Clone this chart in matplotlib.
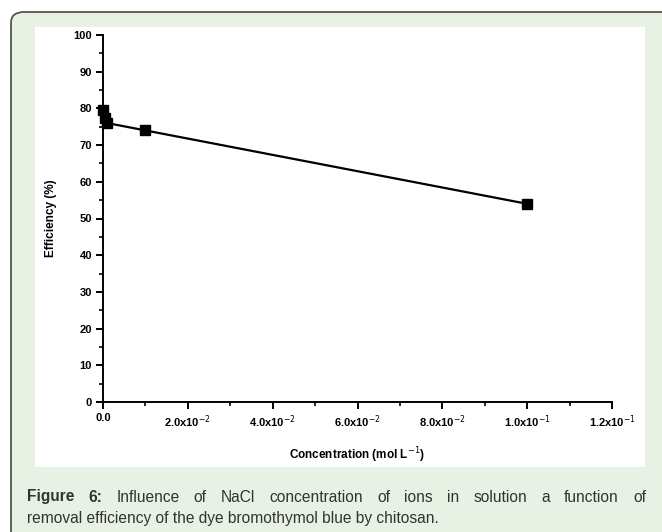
import matplotlib
matplotlib.use("Agg")
import matplotlib.pyplot as plt
from matplotlib.patches import FancyBboxPatch, Rectangle
from matplotlib.ticker import MultipleLocator, FixedLocator

conc = [0.0001, 0.0005, 0.001, 0.01, 0.1]
efficiency = [79.5, 77.5, 76.0, 74.0, 54.0]
xtick_vals = [0.0, 0.02, 0.04, 0.06, 0.08, 0.10, 0.12]
xtick_labels = ["0.0", r"2.0x10$^{-2}$", r"4.0x10$^{-2}$", r"6.0x10$^{-2}$",
                r"8.0x10$^{-2}$", r"1.0x10$^{-1}$", r"1.2x10$^{-1}$"]
ytick_vals = [0, 10, 20, 30, 40, 50, 60, 70, 80, 90, 100]
caption_bold = "Figure 6:"
caption_line1 = "Influence of NaCl concentration of ions in solution a function of"
caption_line2 = "removal efficiency of the dye bromothymol blue by chitosan."

W, H = 662, 532
fig = plt.figure(figsize=(W/100, H/100), dpi=100)
fig.patch.set_facecolor("white")

frame = FancyBboxPatch((11/W, -20/H), (W+20)/W, (H+8)/H,
                       boxstyle="round,pad=0,rounding_size=0.02",
                       transform=fig.transFigure, facecolor="#e7f1e4",
                       edgecolor="#555555", linewidth=1.3, zorder=0)
fig.patches.append(frame)
panel = Rectangle((35/W, 1-467/H), (645-35)/W, (467-27)/H,
                  transform=fig.transFigure, facecolor="white",
                  edgecolor="none", zorder=0.5)
fig.patches.append(panel)

ax = fig.add_axes([103/W, 1-402/H, (612-103)/W, (402-35)/H])
ax.set_zorder(2)
ax.set_facecolor("none")
ax.plot(conc, efficiency, color="black", linewidth=1.6, marker="s",
        markersize=6.5, markerfacecolor="black", markeredgecolor="black",
        clip_on=False, zorder=3)
ax.set_xlim(0, 0.12)
ax.set_ylim(0, 100)
for s in ["top", "right"]:
    ax.spines[s].set_visible(False)
for s in ["left", "bottom"]:
    ax.spines[s].set_linewidth(1.4)
ax.xaxis.set_major_locator(FixedLocator(xtick_vals))
ax.set_xticklabels(xtick_labels)
ax.xaxis.set_minor_locator(MultipleLocator(0.01))
ax.yaxis.set_major_locator(FixedLocator(ytick_vals))
ax.yaxis.set_minor_locator(MultipleLocator(5))
ax.tick_params(axis="both", which="major", direction="out", length=5,
               width=1.4, labelsize=8, pad=3)
ax.tick_params(axis="both", which="minor", direction="out", length=3, width=1.2)
for lab in ax.get_xticklabels() + ax.get_yticklabels():
    lab.set_fontweight("bold")
    lab.set_family("Liberation Sans")
ax.set_xlabel(r"Concentration (mol L$^{-1}$)", fontsize=8.5, fontweight="bold",
              family="Liberation Sans", labelpad=11)
ax.set_ylabel("Efficiency (%)", fontsize=8.5, fontweight="bold",
              family="Liberation Sans", labelpad=12)

# justified caption
renderer = fig.canvas.get_renderer()
fs = 11.2
fam = "Liberation Sans"
col = "#333333"
x_left, x_right = 27, 646

def place_justified(words, y, weights):
    texts = []
    widths = []
    for w, wt in zip(words, weights):
        t = fig.text(0, 1-y/H, w, fontsize=fs, family=fam, fontweight=wt,
                     color=col, va="center", ha="left")
        bb = t.get_window_extent(renderer)
        texts.append(t)
        widths.append(bb.width)
    gap = (x_right - x_left - sum(widths)) / (len(words) - 1)
    x = x_left
    for t, wd in zip(texts, widths):
        t.set_x(x / W)
        x += wd + gap

words1 = caption_bold.split() + caption_line1.split()
weights1 = ["bold"] * len(caption_bold.split()) + ["normal"] * len(caption_line1.split())
place_justified(words1, 497, weights1)
fig.text(x_left/W, 1-518/H, caption_line2, fontsize=fs, family=fam,
         color=col, va="center", ha="left")

fig.savefig("out.png", dpi=100)
